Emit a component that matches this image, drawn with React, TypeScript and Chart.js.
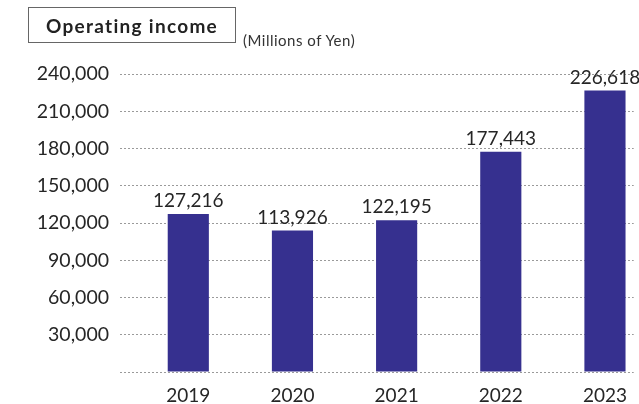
import React, { useEffect, useRef } from 'react';
import { Chart, registerables } from 'chart.js';

Chart.register(...registerables);

const years = ['2019', '2020', '2021', '2022', '2023'];
const income = [127216, 113926, 122195, 177443, 226618];
const yTickValues = [0, 30000, 60000, 90000, 120000, 150000, 180000, 210000, 240000];

const FONT = 'Lato, "Noto Sans", sans-serif';
const TEXT = '#262626';
const BAR = '#36308f';

const valueLabels = {
  id: 'valueLabels',
  afterDatasetsDraw(chart: any) {
    const ctx = chart.ctx;
    const meta = chart.getDatasetMeta(0);
    ctx.save();
    ctx.font = `19px ${FONT}`;
    ctx.fillStyle = TEXT;
    ctx.textAlign = 'center';
    ctx.textBaseline = 'alphabetic';
    meta.data.forEach((el: any, i: number) => {
      ctx.fillText(income[i].toLocaleString('en-US'), el.x, el.y - 7);
    });
    ctx.restore();
  },
};

export default function App() {
  const ref = useRef<HTMLCanvasElement>(null);

  useEffect(() => {
    const chart = new Chart(ref.current as HTMLCanvasElement, {
      type: 'bar',
      data: {
        datasets: [
          {
            data: income.map((v, i) => ({ x: i, y: v })),
            backgroundColor: BAR,
            borderWidth: 0,
            barPercentage: 0.395,
            categoryPercentage: 1,
          } as any,
        ],
      },
      options: {
        animation: false,
        responsive: false,
        layout: { padding: { top: 74, right: 0, bottom: 0, left: 0 } },
        plugins: { legend: { display: false }, tooltip: { enabled: false } },
        scales: {
          x: {
            type: 'linear',
            offset: false,
            min: -0.6556,
            max: 4.276,
            grid: { display: false, drawTicks: false },
            border: { display: false },
            afterBuildTicks: (s: any) => {
              s.ticks = years.map((_, i) => ({ value: i }));
            },
            afterFit: (s: any) => {
              s.height = 32;
            },
            ticks: {
              autoSkip: false,
              maxRotation: 0,
              padding: 12,
              color: TEXT,
              font: { family: FONT, size: 19 },
              callback: (v: any) => years[v as number] ?? '',
            },
          },
          y: {
            min: 0,
            max: 240000,
            afterBuildTicks: (s: any) => {
              s.ticks = yTickValues.map((v) => ({ value: v }));
            },
            afterFit: (s: any) => {
              s.width = 120;
            },
            grid: { color: '#9a9a9a', lineWidth: 1, drawTicks: false },
            border: { display: false, dash: [2, 2] },
            ticks: {
              padding: 11,
              color: TEXT,
              font: { family: FONT, size: 19.5 },
              callback: (v: any) => (v === 0 ? '' : Number(v).toLocaleString('en-US')),
            },
          },
        },
      } as any,
      plugins: [valueLabels],
    });
    return () => chart.destroy();
  }, []);

  return (
    <div style={{ position: 'fixed', left: 0, top: 0, width: 639, height: 404, background: '#fff', overflow: 'hidden' }}>
      <canvas ref={ref} width={639} height={404} style={{ display: 'block', width: 639, height: 404 }} />
      <div
        style={{
          position: 'absolute',
          left: 28,
          top: 7,
          width: 208,
          height: 36,
          boxSizing: 'border-box',
          border: '1px solid #666',
          display: 'flex',
          alignItems: 'center',
          justifyContent: 'center',
          fontFamily: FONT,
          fontWeight: 700,
          fontSize: 19,
          letterSpacing: '1.3px',
          color: '#222',
        }}
      >
        Operating income
      </div>
      <div
        style={{
          position: 'absolute',
          left: 243,
          top: 32,
          fontFamily: FONT,
          fontSize: 15,
          letterSpacing: '0.5px',
          lineHeight: '16px',
          color: '#333',
          whiteSpace: 'nowrap',
        }}
      >
        (Millions of Yen)
      </div>
    </div>
  );
}
